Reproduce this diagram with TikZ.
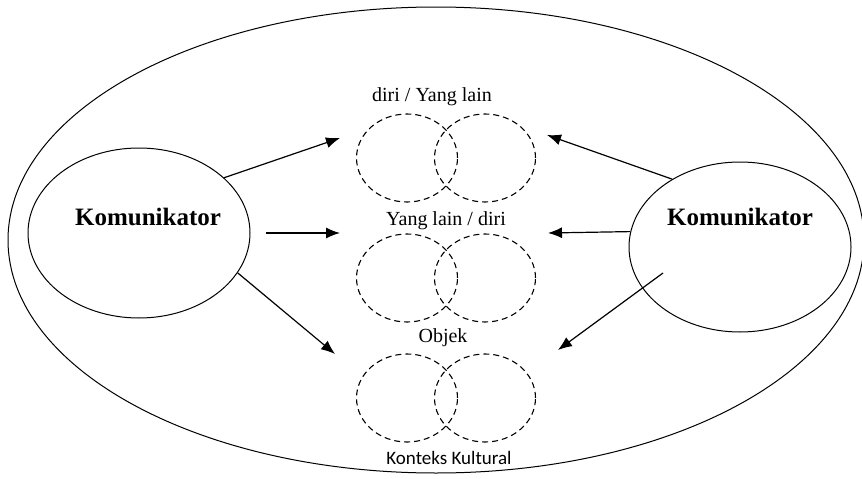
\documentclass[tikz,border=0pt]{standalone}
\usepackage{fontspec}
\setmainfont{Liberation Serif}
\newfontfamily\calibrifont{Carlito}
\usetikzlibrary{positioning,shapes.geometric,arrows.meta}

\tikzset{
	komunikator/.style={
		draw,
		line width=1pt,
		ellipse,
		inner sep=0pt,
		minimum width=222pt,
		minimum height=170pt
	},
	lingkaran/.style={
		draw,
		dashed,
		line width=1.1pt,
		dash pattern=on 6pt off 4pt,
		ellipse,
		inner sep=0pt,
		minimum width=101pt,
		minimum height=88pt
	},
	judul/.style={
		font=\fontsize{20}{22}\selectfont,
		inner sep=0pt
	},
	panah/.style={
		-{Latex[length=14pt,width=11pt]},
		line width=1.2pt
	}
}

\begin{document}
\begin{tikzpicture}[x=1pt,y=-1pt]
			
			\useasboundingbox (0,0) rectangle (862,479);
			
			% ---------------------------------------------------------
			% OUTER CONTEXT
			% ---------------------------------------------------------
			
			\node[
			draw,
			line width=1pt,
			ellipse,
			inner sep=0pt,
			minimum width=856pt,
			minimum height=466pt
			]
			(konteks) at (436,240) {};
			
			% ---------------------------------------------------------
			% KOMUNIKATOR
			% ---------------------------------------------------------
			
			\node[
			komunikator,
			label={[font=\fontsize{25}{27}\selectfont\bfseries,yshift=16pt,xshift=9pt]center:Komunikator}
			]
			(komL) at (139,233) {};
			
			\node[
			komunikator,
			label={[font=\fontsize{25}{27}\selectfont\bfseries,yshift=30pt]center:Komunikator}
			]
			(komR) at (740,247) {};
			
			% ---------------------------------------------------------
			% DIRI / YANG LAIN
			% ---------------------------------------------------------
			
			\node[lingkaran] (diriA) at (407,158) {};
			\node[lingkaran] (lainA) at (485,158) {};
			\node[judul] (labelA) at (432,97) {diri / Yang lain};
			
			% ---------------------------------------------------------
			% YANG LAIN / DIRI
			% ---------------------------------------------------------
			
			\node[lingkaran] (lainB) at (407,278) {};
			\node[lingkaran] (diriB) at (485,278) {};
			\node[judul] (labelB) at (446,221) {Yang lain / diri};
			
			% ---------------------------------------------------------
			% OBJEK
			% ---------------------------------------------------------
			
			\node[lingkaran] (objekA) at (407,398) {};
			\node[lingkaran] (objekB) at (485,398) {};
			\node[judul] (labelC) at (443,338) {Objek};
			\node[
			font=\calibrifont\fontsize{19}{21}\selectfont,
			inner sep=0pt
			]
			(labelD) at (449,458) {Konteks Kultural};
			
			% ---------------------------------------------------------
			% ARROWS
			% ---------------------------------------------------------
			
			\coordinate (ujungA) at (340,138);
			\coordinate (ujungB) at (340,233);
			\coordinate (ujungC) at (335,354);
			\coordinate (ujungD) at (547,135);
			\coordinate (ujungE) at (548,233);
			\coordinate (ujungF) at (558,350);
			\coordinate (awalF) at (663,273);
			
			\draw[panah]
			(komL.33) -- (ujungA);
			
			\draw[panah, shorten <=15pt]
			(komL.east) -- (ujungB);
			
			\draw[panah]
			(komL.-22) -- (ujungC);
			
			\draw[panah]
			(komR.135) -- (ujungD);
			
			\draw[panah]
			(komR.172) -- (ujungE);
			
			\draw[panah]
			(awalF) -- (ujungF);
			
\end{tikzpicture}
\end{document}
